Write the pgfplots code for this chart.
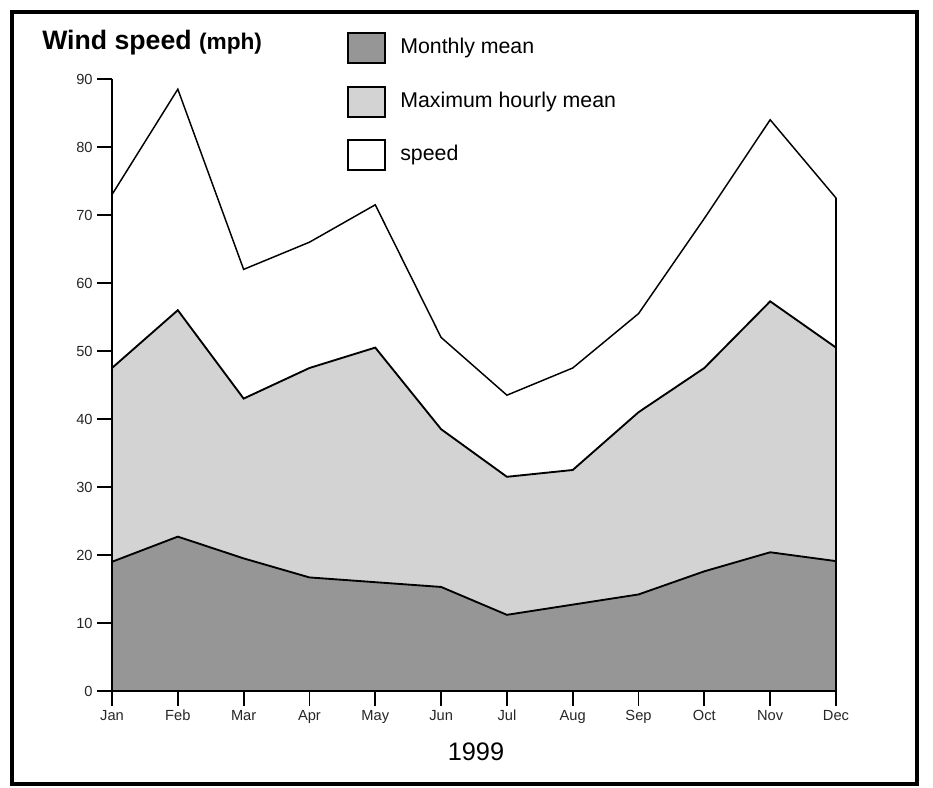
\documentclass[border=0pt]{standalone}
\usepackage{fontspec}
\setmainfont{Liberation Sans}
\usepackage{pgfplots}
\pgfplotsset{compat=1.18}
\definecolor{darkfill}{RGB}{150,150,150}
\definecolor{lightfill}{RGB}{211,211,211}
\begin{document}
\begin{tikzpicture}
\begin{axis}[
  at={(0,0)}, anchor=south west,
  scale only axis, width=543pt, height=459pt,
  xmin=0, xmax=11, ymin=0, ymax=90,
  axis x line=bottom, axis y line=left,
  axis line style={-, line width=1.8pt},
  axis on top=true, clip=false,
  xtick={0,...,11},
  xticklabels={Jan,Feb,Mar,Apr,May,Jun,Jul,Aug,Sep,Oct,Nov,Dec},
  ytick={0,10,...,90},
  tick align=outside, major tick length=11pt,
  tick style={black, line width=1.4pt},
  ticklabel style={font=\fontsize{11}{13}\selectfont, text=black!85},
  /pgf/number format/assume math mode=true,
]
% speed (top)
\addplot[fill=white, draw=black, line width=1.1pt] coordinates {
 (0,73) (1,88.5) (2,62) (3,66) (4,71.5) (5,52) (6,43.5) (7,47.5) (8,55.5) (9,69.5) (10,84) (11,72.5)
} \closedcycle;
% maximum hourly mean
\addplot[fill=lightfill, draw=black, line width=1.4pt] coordinates {
 (0,47.5) (1,56) (2,43) (3,47.5) (4,50.5) (5,38.5) (6,31.5) (7,32.5) (8,41) (9,47.5) (10,57.3) (11,50.5)
} \closedcycle;
% monthly mean
\addplot[fill=darkfill, draw=black, line width=1.4pt] coordinates {
 (0,19) (1,22.7) (2,19.5) (3,16.7) (4,16) (5,15.3) (6,11.2) (7,12.7) (8,14.2) (9,17.6) (10,20.4) (11,19.1)
} \closedcycle;
% right edge at Dec
\addplot[draw=black, line width=1.7pt] coordinates {(11,0) (11,72.5)};
\end{axis}
\begin{scope}[x=0.75pt, y=-0.75pt, shift={(-84pt,518.25pt)}]
\path (0,0) rectangle (933,788);
\draw[line width=2.6pt] (12,12) rectangle (917,784);
\node[anchor=base west, inner sep=0pt] at (42,50) {\bfseries\fontsize{20}{24}\selectfont Wind speed \fontsize{17}{20}\selectfont(mph)};
\draw[fill=darkfill, line width=1.6pt] (348,33) rectangle (385,63);
\draw[fill=lightfill, line width=1.6pt] (348,87) rectangle (385,117);
\draw[fill=white, line width=1.3pt] (348,140) rectangle (385,170);
\node[anchor=west, inner sep=0pt] at (400,48) {\fontsize{16}{19}\selectfont Monthly mean};
\node[anchor=west, inner sep=0pt] at (400,102) {\fontsize{16}{19}\selectfont Maximum hourly mean};
\node[anchor=west, inner sep=0pt] at (400,155) {\fontsize{16}{19}\selectfont speed};
\node[inner sep=0pt] at (476,752) {\fontsize{19}{23}\selectfont 1999};
\end{scope}
\end{tikzpicture}
\end{document}
